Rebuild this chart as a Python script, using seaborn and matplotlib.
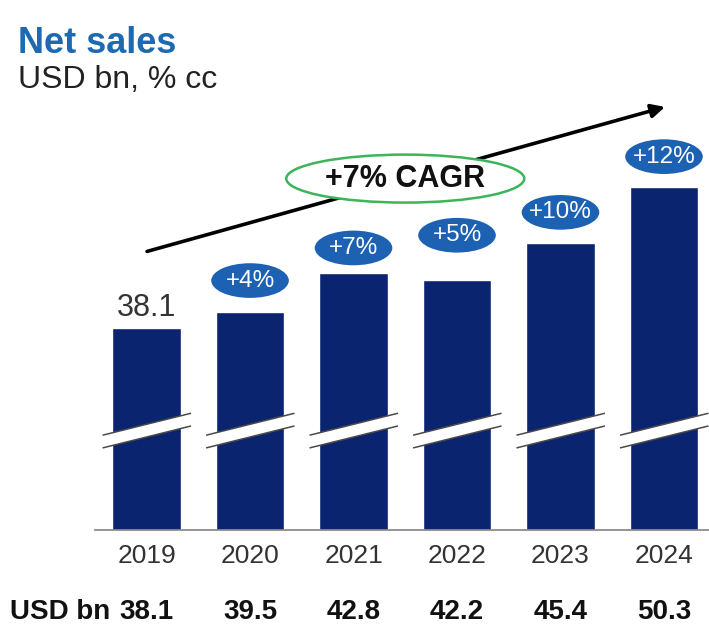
import matplotlib
matplotlib.use("Agg")
import matplotlib.pyplot as plt
from matplotlib.patches import Ellipse, Polygon
from matplotlib.transforms import blended_transform_factory
import seaborn as sns
import pandas as pd

# ---- data -------------------------------------------------------------
years = ["2019", "2020", "2021", "2022", "2023", "2024"]
net_sales = [38.1, 39.5, 42.8, 42.2, 45.4, 50.3]          # USD bn
growth_cc = [None, "+4%", "+7%", "+5%", "+10%", "+12%"]    # % cc growth
cagr_label = "+7% CAGR"

# ---- layout / style ----------------------------------------------------
NAVY = "#0b2470"
BADGE = "#1d62b2"
TITLE_BLUE = "#1b6ab3"
GREEN = "#3cb45a"
GREY_TXT = "#333333"
Y_MIN, Y_MAX = 20.6, 57.8                   # broken value axis
badge_lift = [0, 2.68, 2.2, 3.9, 2.68, 2.6]  # badge centre above bar top

sns.set_theme(style="white")
plt.rcParams["font.family"] = ["Liberation Sans", "DejaVu Sans"]

fig = plt.figure(figsize=(7.09, 6.26), dpi=100)
ax = fig.add_axes([95 / 709, 96 / 626, 614 / 709, 430 / 626])

df = pd.DataFrame({"year": years, "sales": net_sales})
sns.barplot(data=df, x="year", y="sales", color=NAVY, saturation=1,
            width=0.66, ax=ax, zorder=2)

ax.set_ylim(Y_MIN, Y_MAX)
ax.set_xlim(-0.498, 5.435)
ax.set_xlabel("")
ax.set_ylabel("")
ax.set_yticks([])
for side in ("left", "top", "right"):
    ax.spines[side].set_visible(False)
ax.spines["bottom"].set_color("#8c8c8c")
ax.spines["bottom"].set_linewidth(1.3)
ax.tick_params(axis="x", length=0, pad=10, labelsize=19, labelcolor=GREY_TXT)

# axis-break marks across every bar
brk_mid, brk_rise, brk_half = 29.2, 0.95, 0.55
for i in range(len(years)):
    x0, x1 = i - 0.425, i + 0.43
    y0, y1 = brk_mid - brk_rise, brk_mid + brk_rise
    ax.add_patch(Polygon([(x0, y0 - brk_half), (x1, y1 - brk_half),
                          (x1, y1 + brk_half), (x0, y0 + brk_half)],
                         closed=True, facecolor="white", edgecolor="none",
                         zorder=4, clip_on=False))
    for s in (-1, 1):
        ax.plot([x0, x1], [y0 + s * brk_half, y1 + s * brk_half],
                color="#4a4a4a", lw=1.1, zorder=5, clip_on=False,
                solid_capstyle="butt")

# value of the first year above its bar
ax.text(0, net_sales[0] + 1.73, f"{net_sales[0]:.1f}", ha="center",
        va="center", fontsize=22, color=GREY_TXT)

# growth badges
for i, (val, g) in enumerate(zip(net_sales, growth_cc)):
    if g is None:
        continue
    yc = val + badge_lift[i]
    ax.add_patch(Ellipse((i, yc), 0.75, 3.0, facecolor=BADGE,
                         edgecolor="none", zorder=6, clip_on=False))
    ax.text(i, yc, g, ha="center", va="center", fontsize=17.5,
            color="white", zorder=7)

# CAGR trend arrow with its label
ax.annotate("", xy=(5.01, 57.2), xytext=(0.005, 44.7),
            arrowprops=dict(arrowstyle="-|>", color="black", lw=2.6,
                            mutation_scale=20, shrinkA=0, shrinkB=0),
            zorder=3, annotation_clip=False)
ax.add_patch(Ellipse((2.5, 51.0), 2.30, 4.15, facecolor="white",
                     edgecolor=GREEN, lw=1.8, zorder=6, clip_on=False))
ax.text(2.5, 51.0, cagr_label, ha="center", va="center", fontsize=22,
        fontweight="bold", color="#111111", zorder=7)

# sales row below the chart
row_tf = blended_transform_factory(ax.transData, fig.transFigure)
row_y = 1 - 612 / 626
fig.text(10 / 709, row_y, "USD bn", ha="left", va="center", fontsize=20,
         fontweight="bold", color="#111111")
for i, val in enumerate(net_sales):
    ax.text(i, row_y, f"{val:.1f}", transform=row_tf, ha="center",
            va="center", fontsize=20, fontweight="bold", color="#111111")

# headings
fig.text(18 / 709, 1 - 53 / 626, "Net sales", ha="left", va="baseline",
         fontsize=26, fontweight="bold", color=TITLE_BLUE)
fig.text(18 / 709, 1 - 88 / 626, "USD bn, % cc", ha="left", va="baseline",
         fontsize=23, color="#222222")

fig.savefig("out.png", dpi=100, facecolor="white")
